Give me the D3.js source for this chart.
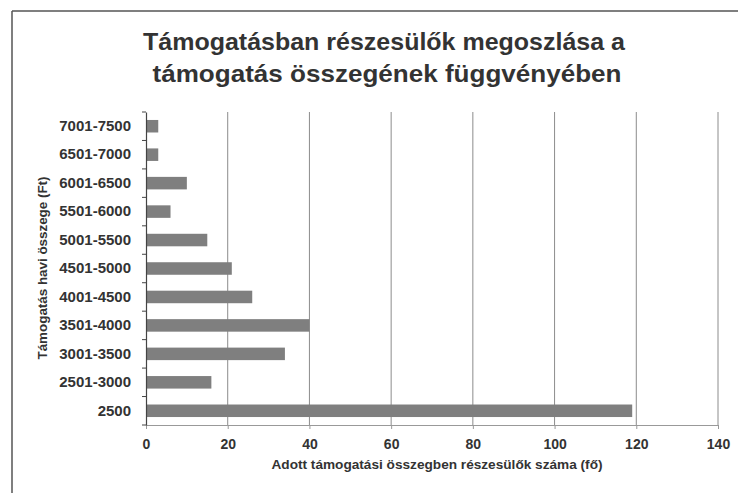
<!DOCTYPE html>
<html><head><meta charset="utf-8">
<script src="https://cdn.jsdelivr.net/npm/d3@7"></script>
<style>body{margin:0;background:#fff}svg{display:block}</style>
</head><body>
<svg id="c" width="738" height="493"></svg>
<script>
const categories = ["7001-7500","6501-7000","6001-6500","5501-6000","5001-5500","4501-5000","4001-4500","3501-4000","3001-3500","2501-3000","2500"];
const values = [3,3,10,6,15,21,26,40,34,16,119];
const xTicks = [0,20,40,60,80,100,120,140];
const titleLines = ["Támogatásban részesülők megoszlása a","támogatás összegének függvényében"];
const xTitle = "Adott támogatási összegben részesülők száma (fő)";
const yTitle = "Támogatás havi összege (Ft)";

const svg = d3.select("#c");
const font = "'Liberation Sans', Arial, sans-serif";
const m = {l:146, r:718, t:112, b:425};

// frame
svg.append("line").attr("x1",12).attr("x2",12).attr("y1",11).attr("y2",493).attr("stroke","#555").attr("stroke-width",1.5);
svg.append("line").attr("x1",12).attr("x2",738).attr("y1",11).attr("y2",11).attr("stroke","#555").attr("stroke-width",1.5);

const x = d3.scaleLinear().domain([0,140]).range([m.l,m.r]);
const y = d3.scaleBand().domain(categories).range([m.t,m.b]).paddingInner(0.56).paddingOuter(0.28);

// grid
svg.append("g").selectAll("line").data(xTicks.slice(1)).join("line")
  .attr("x1",d=>x(d)).attr("x2",d=>x(d)).attr("y1",m.t).attr("y2",m.b)
  .attr("stroke","#8c8c8c").attr("stroke-width",1);

// bars
svg.append("g").selectAll("rect").data(categories).join("rect")
  .attr("x",x(0)).attr("y",d=>y(d)).attr("height",y.bandwidth())
  .attr("width",(d,i)=>x(values[i])-x(0)).attr("fill","#7f7f7f");

// x axis
const xa = svg.append("g").attr("transform",`translate(0,${m.b})`)
  .call(d3.axisBottom(x).tickValues(xTicks).tickSize(4).tickPadding(10));
xa.select(".domain").attr("stroke","#999");
xa.selectAll(".tick line").attr("stroke","#999");
xa.selectAll("text").attr("font-family",font).attr("font-weight","bold").attr("font-size",14).attr("fill","#333");

// y axis
const yOuter = d3.scaleBand().domain(categories).range([m.t,m.b]);
const ya = svg.append("g").attr("transform",`translate(${m.l},0)`)
  .call(d3.axisLeft(y).tickSize(0).tickPadding(15));
ya.select(".domain").attr("stroke","#444").attr("stroke-width",1.2);
ya.selectAll("text").attr("font-family",font).attr("font-weight","bold").attr("font-size",15).attr("fill","#333");
svg.append("g").selectAll("line").data(categories.concat(["end"])).join("line")
  .attr("x1",m.l-4).attr("x2",m.l)
  .attr("y1",(d,i)=>m.t+i*yOuter.step()).attr("y2",(d,i)=>m.t+i*yOuter.step())
  .attr("stroke","#444");

// titles
const tl = [{x:384,y:50,len:482},{x:387,y:82,len:469}];
svg.append("g").selectAll("text").data(titleLines).join("text")
  .attr("x",(d,i)=>tl[i].x).attr("y",(d,i)=>tl[i].y).attr("text-anchor","middle")
  .attr("textLength",(d,i)=>tl[i].len).attr("lengthAdjust","spacingAndGlyphs")
  .attr("font-family",font).attr("font-weight","bold").attr("font-size",24).attr("fill","#333")
  .text(d=>d);
svg.append("text").attr("x",437).attr("y",469).attr("text-anchor","middle")
  .attr("textLength",331).attr("lengthAdjust","spacingAndGlyphs")
  .attr("font-family",font).attr("font-weight","bold").attr("font-size",12.5).attr("fill","#333").text(xTitle);
svg.append("text").attr("transform","translate(47,268) rotate(-90)").attr("text-anchor","middle")
  .attr("textLength",183).attr("lengthAdjust","spacingAndGlyphs")
  .attr("font-family",font).attr("font-weight","bold").attr("font-size",13.5).attr("fill","#333").text(yTitle);
</script>
</body></html>
